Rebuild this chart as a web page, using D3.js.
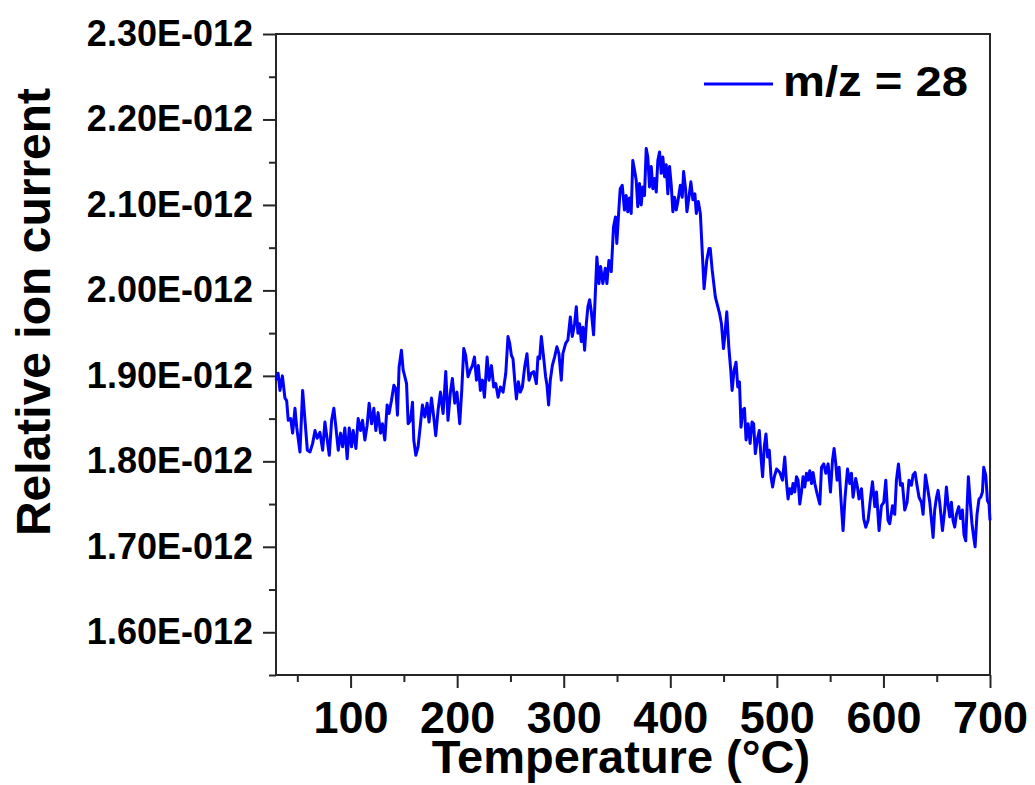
<!DOCTYPE html>
<html>
<head>
<meta charset="utf-8">
<script src="https://cdn.jsdelivr.net/npm/d3@7"></script>
<style>
  body { margin: 0; background: #fff; }
  svg text { font-family: "Liberation Sans", Arial, sans-serif; font-weight: bold; fill: #000; }
</style>
</head>
<body>
<svg width="1035" height="785"></svg>
<script>
// temperature (°C) and ion current (in units of 1E-012)
const temperature = [
  30, 32, 33.7, 36, 38.4, 40, 41.5, 43.8, 45.6, 47.8, 49.4, 52.5, 55, 57.2, 59.4, 61.9, 64.4, 66.6, 68.7, 71.2,
  73.8, 75.9, 78.1, 80, 82.2, 84.3, 86.2, 88.4, 90.6, 92.5, 94.6, 96.8, 98.7, 100.9, 102.4, 105, 107.1, 109.4, 111.2, 113.4,
  115.5, 117.4, 119.7, 121.8, 123.7, 125.8, 128.1, 129.9, 132.1, 134.3, 136.1, 138.3, 140.6, 142.4, 144, 145.5, 147.7, 149.3, 150.9, 152.5,
  154, 156.2, 158.1, 159.3, 161.2, 163.3, 165.6, 167.4, 169.6, 171.8, 173.6, 175.9, 178, 179.9, 182.1, 184.3,
  186.8, 189.3, 191.4, 193.6, 195.5, 197.7, 199.8, 202.4, 204.3, 206.2, 208, 210.2, 212.4, 214.3, 216.2, 218.1, 219.9, 221.8, 223.7, 225.6,
  228.1, 229.9, 232.2, 234.3, 236.2, 238.4, 240.6, 243.1, 245.6, 247.7, 249.3, 250.9, 252.4, 254, 255.6, 257.4, 259.3, 261.2, 263.3, 265.5,
  267.4, 269.6, 271.8, 274.3, 275.8, 277.4, 279, 281.1, 283, 284.3, 285.8, 287.4, 289.3, 291.4, 293.6, 295.5, 297.7, 299.2, 301.8, 303.9,
  306.2, 308, 310.2, 311.8, 313.3, 314.9, 316.5, 318, 319.6, 321.2, 322.7, 324.3, 325.9, 328, 329.9, 331.1, 333, 334.6, 336.7, 339,
  340.5, 342.4, 344.6,
  346.7, 348.6, 349.8, 351.7, 353, 354.9, 357, 358.6, 360.1, 361.7, 363.3, 364.8, 366.4, 368, 369.5, 371.1, 372.7, 374.2, 375.8, 377.4,
  378.9, 380.5, 382.1, 383.6, 385.2, 386.8, 388.3, 389.9, 391.5, 393, 394.6, 396.2, 397.7, 399.3, 400.9, 402.4, 404, 405.6, 407.1, 409.4,
  411.2, 412.5, 414.3, 415.6, 417.5, 419.3, 421.2, 423.1, 424.4, 426.3, 428.2,
  431.7, 434.2, 436.3, 437.5, 439.3, 442.3, 446.2, 448, 449.9, 451.1, 453, 454.9, 456.7, 458, 459.9, 461.7, 463.3, 464.9, 466.4, 468,
  469.6, 471.1, 473, 474.9, 476.7, 478.2, 479.8, 481.6, 483.5, 485.1, 486.6, 488.2, 489.8, 491.3, 492.9, 494.5, 496, 497.6, 499.8,
  502.8, 505.3, 507.4, 509, 510.5, 512.1, 513.7, 515.2, 516.8, 518.4, 519.9, 521.5, 523.1, 524.6, 526.2, 527.8, 529.3, 530.9, 532.5, 534,
  535.6, 537.8, 540.3, 541.9, 544, 545.9, 548.1, 550.3, 552.2, 553.7, 555.3, 556.5, 558.4, 560, 562.1, 564, 566.3, 568.4, 570, 571.5,
  574, 575.6, 577.1, 579.4, 581.5, 583.4, 585.6, 587.8, 589.7, 591.9, 593.5, 595.9, 598.1, 600.3, 602.2, 604.3, 605.9, 608.5, 610.6, 612.2,
  614.1, 616, 617.8, 620, 622.2, 624, 626.3, 627.8, 629.7, 631.5, 633.4, 635.7, 637.2, 639.4, 641.3, 643.5, 645.1, 646.6, 648.1, 649.8,
  651.3, 652.8, 655.4, 657.5, 659.1, 660.6, 662.2, 663.8, 665.3, 666.9, 668.5, 670.7, 672.3, 674.1, 675.6, 677.2, 678.4, 679.7, 681.6, 683.1,
  684.7, 686, 687.8, 689.7, 691.3, 692.9, 694.1, 696, 697.6, 699.1, 700
];
const ionCurrent = [
  1.895, 1.903, 1.883, 1.900, 1.874, 1.871, 1.848, 1.850, 1.833, 1.862, 1.840, 1.811, 1.883, 1.848, 1.813, 1.811, 1.821, 1.836, 1.827, 1.834,
  1.813, 1.846, 1.825, 1.807, 1.848, 1.862, 1.840, 1.813, 1.833, 1.817, 1.839, 1.803, 1.839, 1.817, 1.836, 1.815, 1.850, 1.836, 1.848, 1.825,
  1.842, 1.868, 1.844, 1.862, 1.836, 1.857, 1.833, 1.844, 1.825, 1.866, 1.856, 1.871, 1.889, 1.885, 1.854, 1.910, 1.930, 1.907, 1.899, 1.891,
  1.844, 1.848, 1.869, 1.825, 1.807, 1.817, 1.844, 1.866, 1.852, 1.868, 1.846, 1.874, 1.852, 1.830, 1.860, 1.881,
  1.856, 1.905, 1.848, 1.880, 1.897, 1.868, 1.881, 1.844, 1.883, 1.932, 1.924, 1.899, 1.907, 1.912, 1.922, 1.895, 1.912, 1.883, 1.895, 1.875,
  1.922, 1.895, 1.912, 1.887, 1.891, 1.875, 1.887, 1.881, 1.903, 1.946, 1.938, 1.924, 1.920, 1.895, 1.873, 1.893, 1.881, 1.887, 1.910, 1.926,
  1.895, 1.903, 1.905, 1.891, 1.922, 1.920, 1.946, 1.922, 1.899, 1.889, 1.866, 1.895, 1.912, 1.922, 1.934, 1.926, 1.895, 1.926, 1.938, 1.942,
  1.969, 1.946, 1.961, 1.981, 1.950, 1.961, 1.940, 1.957, 1.930, 1.961, 1.981, 1.989, 1.975, 1.948, 2.004, 2.039, 2.008, 2.028, 2.008, 2.026,
  2.008, 2.035, 2.022,
  2.074, 2.086, 2.055, 2.094, 2.119, 2.123, 2.094, 2.111, 2.092, 2.108, 2.090, 2.152, 2.141, 2.129, 2.098, 2.125, 2.100, 2.121, 2.111, 2.166,
  2.156, 2.121, 2.145, 2.119, 2.131, 2.115, 2.152, 2.162, 2.137, 2.156, 2.133, 2.147, 2.113, 2.145, 2.123, 2.092, 2.109, 2.094, 2.104, 2.123,
  2.109, 2.139, 2.119, 2.092, 2.109, 2.127, 2.106, 2.113, 2.090, 2.104, 2.090,
  2.002, 2.035, 2.049, 2.049, 2.024, 1.992, 1.973, 1.961, 1.932, 1.946, 1.975, 1.934, 1.907, 1.883, 1.907, 1.916, 1.887, 1.893, 1.840, 1.860,
  1.862, 1.825, 1.844, 1.821, 1.846, 1.844, 1.809, 1.825, 1.836, 1.805, 1.782, 1.817, 1.832, 1.805, 1.813, 1.782, 1.770, 1.782, 1.791,
  1.787, 1.778, 1.805, 1.776, 1.756, 1.768, 1.762, 1.774, 1.764, 1.782, 1.778, 1.750, 1.764, 1.782, 1.770, 1.786, 1.778, 1.789, 1.774, 1.787,
  1.774, 1.762, 1.750, 1.793, 1.797, 1.786, 1.797, 1.764, 1.801, 1.815, 1.797, 1.778, 1.793, 1.758, 1.719, 1.758, 1.791, 1.774, 1.786, 1.758,
  1.780, 1.770, 1.756, 1.768, 1.733, 1.723, 1.731, 1.756, 1.776, 1.747, 1.764, 1.719, 1.748, 1.752, 1.778, 1.731, 1.727, 1.748, 1.738, 1.778,
  1.797, 1.772, 1.774, 1.743, 1.752, 1.778, 1.772, 1.784, 1.787, 1.772, 1.758, 1.752, 1.738, 1.784, 1.770, 1.752, 1.731, 1.711, 1.743, 1.758,
  1.766, 1.752, 1.719, 1.743, 1.770, 1.750, 1.735, 1.752, 1.731, 1.723, 1.738, 1.747, 1.733, 1.743, 1.714, 1.707, 1.743, 1.782, 1.750, 1.727,
  1.711, 1.700, 1.738, 1.756, 1.758, 1.764, 1.793, 1.784, 1.754, 1.750, 1.731
];

const xMajorTicks = [100, 200, 300, 400, 500, 600, 700];
const xMinorTicks = [50, 150, 250, 350, 450, 550, 650];
const yMajorTicks = [1.60, 1.70, 1.80, 1.90, 2.00, 2.10, 2.20, 2.30];
const yMinorTicks = [1.55, 1.65, 1.75, 1.85, 1.95, 2.05, 2.15, 2.25];
const seriesName = 'm/z = 28';

const svg = d3.select('svg');
const plotLeft = 276, plotRight = 990, plotTop = 34, plotBottom = 675;
const axisColor = '#262626';

const xScale = d3.scaleLinear().domain([30, 700]).range([plotLeft, plotRight]);
const yScale = d3.scaleLinear().domain([1.55, 2.30]).range([plotBottom, plotTop]);

const data = temperature.map((t, i) => ({ t: t, v: ionCurrent[i] }));

// minor ticks first, then the labelled major ones
svg.append('g')
    .attr('transform', `translate(0, ${plotBottom})`)
    .call(d3.axisBottom(xScale).tickValues(xMinorTicks).tickSize(7).tickSizeOuter(0).tickFormat(''));

const xAxis = svg.append('g')
    .attr('transform', `translate(0, ${plotBottom})`)
    .call(d3.axisBottom(xScale).tickValues(xMajorTicks).tickSize(13).tickSizeOuter(0).tickPadding(13).tickFormat(d3.format('d')));
xAxis.selectAll('text').attr('font-size', 45);

svg.append('g')
    .attr('transform', `translate(${plotLeft}, 0)`)
    .call(d3.axisLeft(yScale).tickValues(yMinorTicks).tickSize(7).tickSizeOuter(0).tickFormat(''));

const yAxis = svg.append('g')
    .attr('transform', `translate(${plotLeft}, 0)`)
    .call(d3.axisLeft(yScale).tickValues(yMajorTicks).tickSize(13).tickSizeOuter(0).tickPadding(10)
        .tickFormat(d => d.toFixed(2) + 'E-012'));
yAxis.selectAll('text').attr('font-size', 36);

svg.selectAll('.domain').remove();
svg.selectAll('.tick line').attr('stroke', axisColor).attr('stroke-width', 2);
svg.selectAll('.tick text').style('font-family', '"Liberation Sans", Arial, sans-serif').style('font-weight', 'bold');

// frame round the plot
svg.append('rect')
    .attr('x', plotLeft)
    .attr('y', plotTop)
    .attr('width', plotRight - plotLeft)
    .attr('height', plotBottom - plotTop)
    .attr('fill', 'none')
    .attr('stroke', axisColor)
    .attr('stroke-width', 2);

const line = d3.line()
    .x(d => xScale(d.t))
    .y(d => yScale(d.v));

svg.append('path')
    .datum(data)
    .attr('d', line)
    .attr('fill', 'none')
    .attr('stroke', '#0000ff')
    .attr('stroke-width', 3)
    .attr('stroke-linejoin', 'round');

// legend
svg.append('line')
    .attr('x1', 704)
    .attr('x2', 773)
    .attr('y1', 84)
    .attr('y2', 84)
    .attr('stroke', '#0000ff')
    .attr('stroke-width', 3);

svg.append('text')
    .attr('x', 783)
    .attr('y', 96)
    .attr('font-size', 42)
    .attr('textLength', 185)
    .attr('lengthAdjust', 'spacingAndGlyphs')
    .text(seriesName);

// axis titles
svg.append('text')
    .attr('x', 621)
    .attr('y', 773)
    .attr('text-anchor', 'middle')
    .attr('font-size', 47)
    .text('Temperature (°C)');

svg.append('text')
    .attr('transform', 'translate(50, 312) rotate(-90)')
    .attr('text-anchor', 'middle')
    .attr('font-size', 48)
    .text('Relative ion current');
</script>
</body>
</html>
